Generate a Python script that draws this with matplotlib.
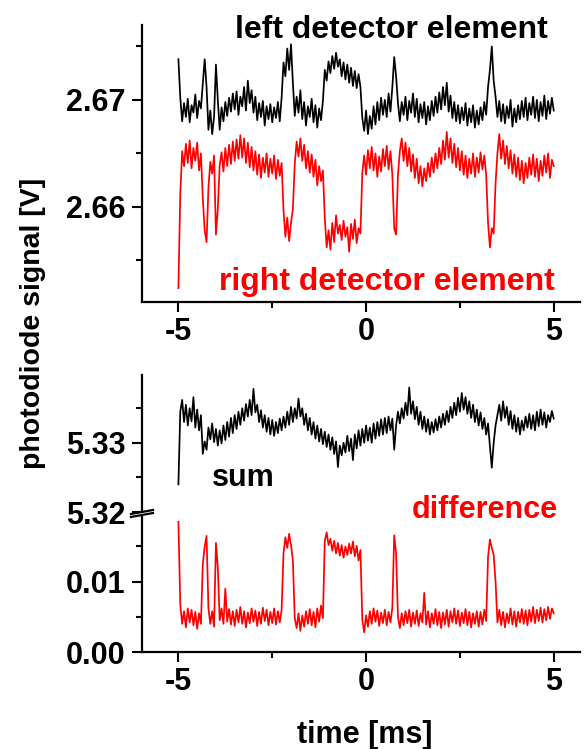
import numpy as np
import matplotlib
matplotlib.use("Agg")
import matplotlib.pyplot as plt
from matplotlib.ticker import MultipleLocator, FormatStrFormatter
from matplotlib.lines import Line2D

plt.rcParams['font.family'] = ['Liberation Sans', 'DejaVu Sans']
plt.rcParams['font.weight'] = 'bold'
plt.rcParams['axes.unicode_minus'] = False

# time axis of the traces [ms], one sample every 0.05 ms
time_ms = np.linspace(-5, 5, 201)

# left detector element [V]
left_v = [
    2.6738, 2.6702, 2.6680, 2.6697, 2.6684, 2.6701, 2.6679, 2.6695, 2.6688, 2.6705,
    2.6683, 2.6699, 2.6692, 2.6715, 2.6738, 2.6712, 2.6672, 2.6690, 2.6668, 2.6684,
    2.6733, 2.6700, 2.6672, 2.6693, 2.6680, 2.6698, 2.6685, 2.6702, 2.6689, 2.6706,
    2.6691, 2.6708, 2.6686, 2.6703, 2.6694, 2.6712, 2.6690, 2.6718, 2.6697, 2.6709,
    2.6688, 2.6703, 2.6681, 2.6697, 2.6684, 2.6699, 2.6676, 2.6694, 2.6682, 2.6696,
    2.6679, 2.6693, 2.6683, 2.6698, 2.6680, 2.6702, 2.6735, 2.6722, 2.6748, 2.6728,
    2.6752, 2.6716, 2.6685, 2.6703, 2.6688, 2.6709, 2.6682, 2.6698, 2.6676, 2.6694,
    2.6684, 2.6701, 2.6679, 2.6695, 2.6674, 2.6692, 2.6681, 2.6699, 2.6728, 2.6718,
    2.6736, 2.6725, 2.6741, 2.6729, 2.6744, 2.6731, 2.6738, 2.6722, 2.6735, 2.6719,
    2.6733, 2.6716, 2.6730, 2.6713, 2.6727, 2.6711, 2.6724, 2.6712, 2.6683, 2.6671,
    2.6690, 2.6668, 2.6685, 2.6673, 2.6694, 2.6677, 2.6698, 2.6681, 2.6702, 2.6686,
    2.6700, 2.6684, 2.6706, 2.6689, 2.6712, 2.6740, 2.6722, 2.6697, 2.6680, 2.6698,
    2.6686, 2.6703, 2.6681, 2.6699, 2.6688, 2.6706, 2.6684, 2.6701, 2.6679, 2.6696,
    2.6683, 2.6698, 2.6677, 2.6694, 2.6681, 2.6699, 2.6685, 2.6703, 2.6688, 2.6707,
    2.6691, 2.6712, 2.6695, 2.6716, 2.6689, 2.6704, 2.6683, 2.6698, 2.6680, 2.6695,
    2.6678, 2.6693, 2.6681, 2.6697, 2.6676, 2.6692, 2.6679, 2.6695, 2.6674, 2.6690,
    2.6677, 2.6693, 2.6681, 2.6698, 2.6686, 2.6712, 2.6728, 2.6750, 2.6718, 2.6703,
    2.6684, 2.6699, 2.6680, 2.6696, 2.6678, 2.6694, 2.6683, 2.6700, 2.6675, 2.6692,
    2.6679, 2.6695, 2.6682, 2.6699, 2.6684, 2.6702, 2.6681, 2.6697, 2.6686, 2.6703,
    2.6683, 2.6700, 2.6680, 2.6698, 2.6685, 2.6704, 2.6682, 2.6699, 2.6687, 2.6702, 2.6690,
]

# right detector element [V]
right_v = [
    2.6524, 2.6612, 2.6652, 2.6638, 2.6659, 2.6641, 2.6662, 2.6636, 2.6655, 2.6643,
    2.6660, 2.6634, 2.6650, 2.6608, 2.6578, 2.6567, 2.6618, 2.6642, 2.6631, 2.6648,
    2.6574, 2.6598, 2.6639, 2.6651, 2.6633, 2.6655, 2.6638, 2.6658, 2.6640, 2.6661,
    2.6643, 2.6663, 2.6645, 2.6667, 2.6646, 2.6664, 2.6641, 2.6660, 2.6637, 2.6656,
    2.6634, 2.6652, 2.6630, 2.6649, 2.6627, 2.6646, 2.6632, 2.6650, 2.6628, 2.6645,
    2.6631, 2.6648, 2.6626, 2.6644, 2.6629, 2.6641, 2.6597, 2.6572, 2.6590, 2.6568,
    2.6585, 2.6598, 2.6640, 2.6661, 2.6647, 2.6664, 2.6643, 2.6658, 2.6636, 2.6652,
    2.6632, 2.6649, 2.6628, 2.6644, 2.6620, 2.6638, 2.6624, 2.6634, 2.6590, 2.6562,
    2.6578, 2.6560, 2.6585, 2.6567, 2.6592, 2.6575, 2.6583, 2.6569, 2.6587, 2.6572,
    2.6581, 2.6558, 2.6584, 2.6570, 2.6588, 2.6566, 2.6580, 2.6575, 2.6632, 2.6648,
    2.6630, 2.6653, 2.6636, 2.6656, 2.6634, 2.6650, 2.6628, 2.6647, 2.6633, 2.6654,
    2.6638, 2.6657, 2.6635, 2.6652, 2.6630, 2.6580, 2.6574, 2.6630, 2.6652, 2.6664,
    2.6643, 2.6660, 2.6638, 2.6655, 2.6633, 2.6649, 2.6627, 2.6645, 2.6622, 2.6638,
    2.6619, 2.6636, 2.6624, 2.6641, 2.6628, 2.6646, 2.6632, 2.6650, 2.6636, 2.6655,
    2.6640, 2.6662, 2.6644, 2.6670, 2.6646, 2.6664, 2.6641, 2.6659, 2.6637, 2.6655,
    2.6634, 2.6652, 2.6630, 2.6648, 2.6627, 2.6645, 2.6631, 2.6650, 2.6628, 2.6646,
    2.6632, 2.6651, 2.6635, 2.6648, 2.6630, 2.6585, 2.6562, 2.6580, 2.6575, 2.6622,
    2.6650, 2.6668, 2.6645, 2.6662, 2.6640, 2.6657, 2.6636, 2.6653, 2.6631, 2.6649,
    2.6628, 2.6646, 2.6625, 2.6643, 2.6622, 2.6641, 2.6627, 2.6646, 2.6630, 2.6649,
    2.6628, 2.6645, 2.6624, 2.6643, 2.6629, 2.6648, 2.6632, 2.6650, 2.6627, 2.6644, 2.6638,
]

# sum signal [V]
sum_v = [
    5.3240, 5.3345, 5.3362, 5.3330, 5.3355, 5.3325, 5.3350, 5.3331, 5.3366, 5.3322,
    5.3348, 5.3318, 5.3340, 5.3284, 5.3302, 5.3290, 5.3322, 5.3305, 5.3328, 5.3301,
    5.3320, 5.3296, 5.3318, 5.3299, 5.3325, 5.3304, 5.3330, 5.3309, 5.3336, 5.3314,
    5.3340, 5.3320, 5.3345, 5.3326, 5.3350, 5.3332, 5.3356, 5.3338, 5.3362, 5.3340,
    5.3378, 5.3344, 5.3355, 5.3330, 5.3347, 5.3322, 5.3340, 5.3316, 5.3336, 5.3312,
    5.3333, 5.3310, 5.3330, 5.3314, 5.3335, 5.3318, 5.3338, 5.3322, 5.3345, 5.3326,
    5.3352, 5.3330, 5.3350, 5.3335, 5.3364, 5.3338, 5.3350, 5.3326, 5.3342, 5.3318,
    5.3336, 5.3312, 5.3330, 5.3306, 5.3325, 5.3302, 5.3320, 5.3298, 5.3316, 5.3294,
    5.3312, 5.3290, 5.3308, 5.3284, 5.3302, 5.3265, 5.3296, 5.3282, 5.3300, 5.3286,
    5.3310, 5.3288, 5.3306, 5.3275, 5.3312, 5.3292, 5.3318, 5.3296, 5.3320, 5.3300,
    5.3325, 5.3303, 5.3322, 5.3300, 5.3328, 5.3306, 5.3330, 5.3310, 5.3334, 5.3312,
    5.3336, 5.3314, 5.3338, 5.3318, 5.3335, 5.3290, 5.3325, 5.3345, 5.3328, 5.3350,
    5.3335, 5.3358, 5.3340, 5.3380, 5.3342, 5.3360, 5.3334, 5.3352, 5.3326, 5.3345,
    5.3320, 5.3338, 5.3316, 5.3334, 5.3312, 5.3330, 5.3315, 5.3334, 5.3318, 5.3338,
    5.3322, 5.3342, 5.3326, 5.3346, 5.3330, 5.3352, 5.3336, 5.3358, 5.3340, 5.3365,
    5.3345, 5.3372, 5.3348, 5.3366, 5.3342, 5.3360, 5.3336, 5.3355, 5.3330, 5.3348,
    5.3325, 5.3344, 5.3320, 5.3336, 5.3312, 5.3328, 5.3295, 5.3264, 5.3300, 5.3325,
    5.3340, 5.3355, 5.3332, 5.3360, 5.3336, 5.3352, 5.3326, 5.3346, 5.3320, 5.3340,
    5.3316, 5.3336, 5.3312, 5.3332, 5.3318, 5.3338, 5.3322, 5.3342, 5.3320, 5.3340,
    5.3318, 5.3345, 5.3324, 5.3348, 5.3326, 5.3344, 5.3322, 5.3340, 5.3330, 5.3346, 5.3335,
]

# difference signal [V]
diff_v = [
    0.0185, 0.0068, 0.0040, 0.0058, 0.0035, 0.0062, 0.0042, 0.0060, 0.0038, 0.0057,
    0.0033, 0.0055, 0.0040, 0.0125, 0.0150, 0.0165, 0.0062, 0.0040, 0.0058, 0.0036,
    0.0155, 0.0120, 0.0045, 0.0062, 0.0040, 0.0090, 0.0043, 0.0061, 0.0039, 0.0058,
    0.0037, 0.0060, 0.0042, 0.0064, 0.0040, 0.0058, 0.0035, 0.0056, 0.0041, 0.0062,
    0.0043, 0.0059, 0.0037, 0.0057, 0.0040, 0.0063, 0.0044, 0.0060, 0.0038, 0.0057,
    0.0041, 0.0062, 0.0039, 0.0058, 0.0042, 0.0060, 0.0140, 0.0163, 0.0148, 0.0168,
    0.0152, 0.0130, 0.0048, 0.0034, 0.0055, 0.0030, 0.0052, 0.0036, 0.0058, 0.0040,
    0.0061, 0.0038, 0.0057, 0.0035, 0.0062, 0.0043, 0.0066, 0.0048, 0.0158, 0.0170,
    0.0152, 0.0161, 0.0144, 0.0158, 0.0140, 0.0155, 0.0137, 0.0152, 0.0134, 0.0150,
    0.0138, 0.0154, 0.0140, 0.0157, 0.0136, 0.0151, 0.0130, 0.0145, 0.0045, 0.0028,
    0.0052, 0.0036, 0.0058, 0.0040, 0.0062, 0.0043, 0.0059, 0.0037, 0.0056, 0.0041,
    0.0060, 0.0038, 0.0057, 0.0042, 0.0063, 0.0166, 0.0140, 0.0050, 0.0034, 0.0055,
    0.0038, 0.0058, 0.0041, 0.0060, 0.0036, 0.0056, 0.0040, 0.0059, 0.0037, 0.0055,
    0.0042, 0.0084, 0.0039, 0.0058, 0.0035, 0.0055, 0.0040, 0.0061, 0.0038, 0.0057,
    0.0034, 0.0056, 0.0039, 0.0060, 0.0036, 0.0058, 0.0042, 0.0062, 0.0040, 0.0059,
    0.0037, 0.0056, 0.0041, 0.0061, 0.0038, 0.0057, 0.0035, 0.0055, 0.0040, 0.0058,
    0.0036, 0.0057, 0.0039, 0.0060, 0.0044, 0.0135, 0.0160, 0.0148, 0.0138, 0.0100,
    0.0042, 0.0060, 0.0038, 0.0057, 0.0035, 0.0055, 0.0041, 0.0062, 0.0039, 0.0058,
    0.0036, 0.0057, 0.0042, 0.0061, 0.0040, 0.0059, 0.0038, 0.0060, 0.0043, 0.0064,
    0.0041, 0.0060, 0.0044, 0.0063, 0.0042, 0.0061, 0.0045, 0.0064, 0.0047, 0.0062, 0.0055,
]

W, H = 585, 749
FS = 22
RED = '#ff0000'
LW = 1.25

fig = plt.figure(figsize=(W / 100, H / 100), dpi=100)


def px_axes(x0, y0, x1, y1):
    # axes box given in pixel coordinates (y from the top)
    return fig.add_axes([x0 / W, 1 - y1 / H, (x1 - x0) / W, (y1 - y0) / H])


def style(ax, xaxis=True):
    for s in ['top', 'right']:
        ax.spines[s].set_visible(False)
    ax.spines['left'].set_linewidth(1.6)
    ax.spines['bottom'].set_linewidth(1.6)
    ax.tick_params(which='major', direction='out', length=7, width=1.5,
                   labelsize=FS, pad=4)
    ax.tick_params(which='minor', direction='out', length=4, width=1.5)
    ax.tick_params(axis='y', which='major', pad=5)
    ax.yaxis.set_major_formatter(FormatStrFormatter('%.2f'))
    if xaxis:
        ax.set_xticks([-5, 0, 5])
        ax.xaxis.set_minor_locator(MultipleLocator(2.5))
    else:
        ax.spines['bottom'].set_visible(False)
        ax.tick_params(axis='x', which='both', bottom=False, labelbottom=False)
    for lab in ax.get_xticklabels() + ax.get_yticklabels():
        lab.set_fontweight('bold')
    ax.set_xlim(-5.97, 5.7)
    ax.patch.set_alpha(0)


# top panel: single detector elements
ax1 = px_axes(142, 25, 580, 302)
ax1.plot(time_ms, left_v, color='black', lw=LW)
ax1.plot(time_ms, right_v, color=RED, lw=LW)
ax1.set_ylim(2.6511, 2.677)
ax1.yaxis.set_major_locator(MultipleLocator(0.01))
ax1.yaxis.set_minor_locator(MultipleLocator(0.005))
style(ax1)

# lower panel, upper part: sum
ax2 = px_axes(142, 375, 580, 512)
ax2.plot(time_ms, sum_v, color='black', lw=LW)
ax2.set_ylim(5.32, 5.3398)
ax2.yaxis.set_major_locator(MultipleLocator(0.01))
ax2.yaxis.set_minor_locator(MultipleLocator(0.005))
style(ax2, xaxis=False)

# lower panel, lower part: difference
ax3 = px_axes(142, 512, 580, 652)
ax3.plot(time_ms, diff_v, color=RED, lw=LW)
ax3.set_ylim(0, 0.0199)
ax3.yaxis.set_major_locator(MultipleLocator(0.01))
ax3.yaxis.set_minor_locator(MultipleLocator(0.005))
style(ax3)

# axis break marks
bx0, bx1 = 131 / W, 153 / W
fig.patches.append(plt.Polygon([[bx0, 1 - 514 / H], [bx1, 1 - 510 / H],
                                [bx1, 1 - 513 / H], [bx0, 1 - 517 / H]],
                               closed=True, transform=fig.transFigure,
                               facecolor='white', edgecolor='none', zorder=5))
for yy in (514, 517):
    fig.lines.append(Line2D([bx0, bx1], [1 - yy / H, 1 - (yy - 4) / H],
                            transform=fig.transFigure, color='black', lw=1.6, zorder=6))


def label(x, y, s, size=FS, **kw):
    fig.text(x / W, 1 - y / H, s, fontsize=size, fontweight='bold', **kw)


label(548, 38, 'left detector element', size=23, ha='right', va='baseline', color='black')
label(555, 290, 'right detector element', size=23, ha='right', va='baseline', color=RED)
label(212, 486, 'sum', ha='left', va='baseline', color='black')
label(558, 518, 'difference', ha='right', va='baseline', color=RED)
label(365, 743, 'time [ms]', ha='center', va='baseline', color='black')
fig.text(33 / W, 1 - 323 / H, 'photodiode signal [V]', fontsize=20.5,
         fontweight='bold', rotation=90, ha='center', va='center')

fig.savefig('out.png', dpi=100)
